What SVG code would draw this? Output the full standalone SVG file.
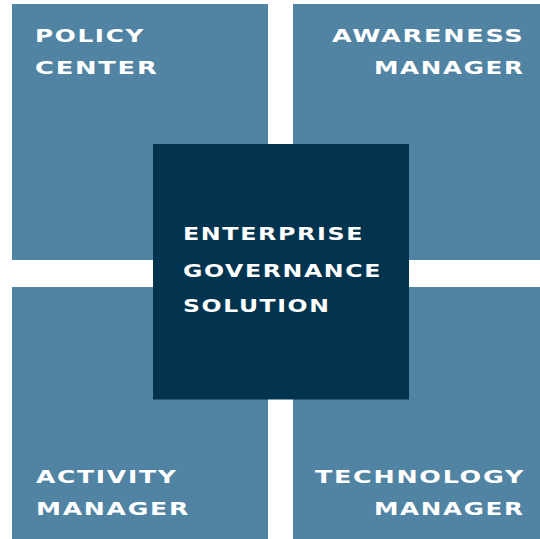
<svg xmlns="http://www.w3.org/2000/svg" width="540" height="539" viewBox="0 0 540 539">
<style>
.q{fill:#5184a3}
.c{fill:#02344f}
.t{fill:#ffffff;font-family:"DejaVu Sans",sans-serif;font-weight:bold;font-size:17.5px;letter-spacing:1.2px}
</style>
<rect width="540" height="539" fill="#ffffff"/>
<g id="policy-center">
<rect class="q" x="12" y="4" width="256" height="256"/>
<text class="t" x="35" y="41.7" textLength="110" lengthAdjust="spacingAndGlyphs">POLICY</text>
<text class="t" x="35" y="74" textLength="123.5" lengthAdjust="spacingAndGlyphs">CENTER</text>
</g>
<g id="awareness-manager">
<rect class="q" x="293" y="4" width="247" height="256"/>
<text class="t" x="332" y="41.5" textLength="192.5" lengthAdjust="spacingAndGlyphs">AWARENESS</text>
<text class="t" x="374" y="74" textLength="150.5" lengthAdjust="spacingAndGlyphs">MANAGER</text>
</g>
<g id="activity-manager">
<rect class="q" x="12" y="287" width="256" height="252"/>
<text class="t" x="36" y="482.7" textLength="141.5" lengthAdjust="spacingAndGlyphs">ACTIVITY</text>
<text class="t" x="36" y="515" textLength="154" lengthAdjust="spacingAndGlyphs">MANAGER</text>
</g>
<g id="technology-manager">
<rect class="q" x="293" y="287" width="247" height="252"/>
<text class="t" x="315" y="482.7" textLength="210" lengthAdjust="spacingAndGlyphs">TECHNOLOGY</text>
<text class="t" x="374" y="515" textLength="150.5" lengthAdjust="spacingAndGlyphs">MANAGER</text>
</g>
<g id="enterprise-governance-solution">
<rect class="c" x="153" y="144" width="256" height="255.5"/>
<text class="t" x="183" y="240" textLength="181" lengthAdjust="spacingAndGlyphs">ENTERPRISE</text>
<text class="t" x="183" y="276.5" textLength="199" lengthAdjust="spacingAndGlyphs">GOVERNANCE</text>
<text class="t" x="183" y="311.7" textLength="147.5" lengthAdjust="spacingAndGlyphs">SOLUTION</text>
</g>
<g id="connectors"></g>
</svg>
